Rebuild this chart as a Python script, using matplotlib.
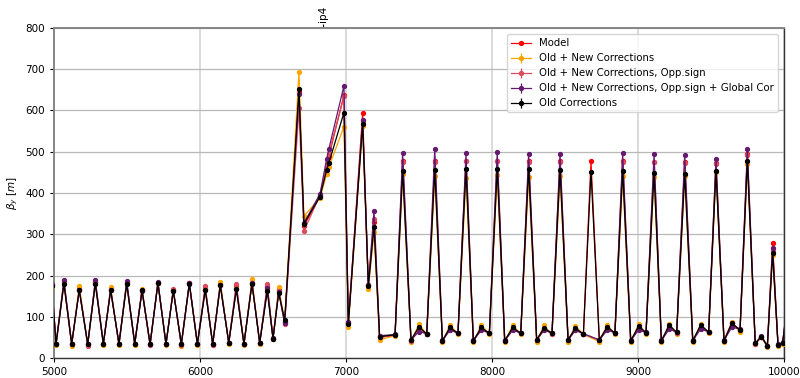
"""Vertical beta function around IP4 for the different correction sets."""

import matplotlib

matplotlib.use("Agg")
import matplotlib.pyplot as plt
import numpy as np

# longitudinal position of each BPM [m]
s_pos = [
    4985, 5014, 5068, 5121, 5173, 5231, 5283, 5338, 5388, 5445, 5498, 5553,
    5603, 5658, 5712, 5767, 5817, 5872, 5927, 5982, 6036, 6087, 6139, 6197,
    6249, 6301, 6356, 6409, 6461, 6500, 6539, 6580,
    6678, 6712, 6822, 6868, 6882, 6986, 7016, 7114, 7153, 7192, 7230, 7336,
    7388, 7445, 7500, 7553, 7608, 7660, 7712, 7767, 7822, 7872, 7927, 7982,
    8036, 8087, 8142, 8197, 8251, 8306, 8356, 8411, 8466, 8521, 8571, 8626,
    8678, 8735, 8790, 8842, 8895, 8950, 9005, 9055, 9110, 9160, 9214, 9265,
    9320, 9375, 9429, 9484, 9534, 9589, 9642, 9699, 9749, 9803, 9845, 9886,
    9922, 9959, 9991, 10040,
]

beta_old = [
    175, 34, 179, 34, 165, 34, 179, 34, 165, 34, 179, 34,
    164, 34, 181, 34, 163, 34, 180, 34, 165, 34, 176, 37,
    166.5, 34, 180, 37, 162, 47, 158, 92,
    651, 326, 391, 456, 472, 595, 82, 567, 174.5, 318, 52, 56,
    454, 43.6, 76, 58, 456, 42, 74, 60, 457, 42, 74, 60,
    459, 42, 74, 60, 459, 44, 73, 60, 456, 44, 73, 58,
    452, 44, 76, 60, 454, 42, 78, 61, 449, 42, 80, 62,
    446, 42, 80, 63, 454, 42, 84, 68, 477, 35.5, 52, 29,
    254, 32, 37, 180,
]

beta_new = [
    172, 31, 182, 29, 175, 32, 182, 31, 171, 31, 181, 32,
    168, 33, 182, 32, 165, 30, 181, 31, 168, 32, 185, 35,
    170, 32, 191, 35, 168, 47, 171, 88,
    694, 344, 388, 446, 462, 561, 75, 563, 167, 305, 44, 54,
    446, 39.5, 82, 57, 440, 38, 80, 58, 436, 38, 80, 58,
    444, 38, 80, 58, 438, 40, 79, 57, 440, 40, 78, 57,
    None, 40, 80, 58, 440, 38, 82, 59, 438, 38, 82, 59,
    441, 38, 82, 60, 450, 38, 88, 62, 470, 34, 50, 27,
    250, 30, 35, 175,
]

beta_opp = [
    178, 33, 186, 33, 166, 30, 185, 33, 166, 33, 184, 33,
    165, 31, 183, 33, 167, 31, 181, 33, 174, 31, 178, 36,
    180, 33, 182, 36, 178.5, 48, 163, 82,
    605, 308, 395, 470, 495, 635, 85, 575, 176, 336, 50, 55,
    476, 42, 70, 58, 476, 41, 70, 60, 478, 41, 70, 60,
    478, 41, 70, 60, 476, 43, 69, 59, 476, 43, 69, 58,
    None, 43, 71, 60, 476, 41, 72, 60, 474, 41, 73, 61,
    472, 41, 73, 62, 470, 41, 85, 67, 492, 33, 51, 28,
    260, 31, 36, 182,
]

beta_global = [
    180, 35, 189, 34, 164, 33, 188, 35, 164, 34, 186, 35,
    163, 33, 184, 34, 163, 33, 182, 35, 166, 34, 177, 37,
    168, 35, 181, 37, 170, 48, 160, 84,
    641, 327, 398, 483, 506, 660, 87, 578, 177, 357, 54, 57,
    498, 44, 64, 59, 507, 43, 67, 61, 496, 43, 67, 61,
    500, 43, 67, 61, 495, 44, 67, 61, 495, 44, 67, 59,
    None, 44, 68, 61, 496, 43, 68, 62, 495, 43, 70, 63,
    493, 43, 70, 64, 482, 43, 74, 71, 507, 36, 53, 30,
    267, 33, 38, 185,
]

beta_model = [
    176, 34, 184, 34, 167, 34, 184, 34, 167, 34, 183, 34,
    166, 34, 182, 34, 166, 34, 181, 34, 170, 34, 179, 37,
    174, 34, 183, 37, 172, 47, 164, 88,
    644, 320, 393, 465, 488, 637, 84, 593, 176, 330, 50, 56,
    478, 43, 72, 58, 478, 42, 72, 60, 478, 42, 72, 60,
    478, 42, 72, 60, 477, 44, 71, 60, 477, 44, 71, 58,
    477, 44, 73, 60, 477, 42, 75, 61, 476, 42, 76, 62,
    475, 42, 76, 63, 472, 42, 85, 68, 494, 35, 52, 29,
    278, 32, 37, 180,
]

ip_pos = [6845]
ip_names = ["ip4"]

measured = [
    ("Old + New Corrections", beta_new, "#ffa500"),
    ("Old + New Corrections, Opp.sign", beta_opp, "#dc4c5e"),
    ("Old + New Corrections, Opp.sign + Global Cor", beta_global, "#651a70"),
    ("Old Corrections", beta_old, "black"),
]


def valid(values):
    s = np.array([x for x, v in zip(s_pos, values) if v is not None], float)
    y = np.array([v for v in values if v is not None], float)
    return s, y


fig = plt.figure(figsize=(8, 3.78), dpi=100)
ax = fig.add_axes([54 / 800, 20 / 378, 730 / 800, 330 / 378])

ax.plot(s_pos, beta_model, "o-", color="red", lw=0.9, ms=2.8,
        label="Model", zorder=2)
for label, values, color in measured:
    s, y = valid(values)
    ax.errorbar(s, y, yerr=np.zeros_like(y), fmt="o-", color=color,
                lw=0.9, ms=2.8, elinewidth=0.9, label=label, zorder=3)

ax.set_xlim(5000, 10000)
ax.set_ylim(0, 800)
ax.set_xticks([5000, 6000, 7000, 8000, 9000, 10000])
ax.set_yticks(range(0, 801, 100))
ax.tick_params(labelsize=7.5, length=3)
ax.set_ylabel(r"$\beta_y$ $[m]$", fontsize=7.5, labelpad=4)

ax.grid(axis="y", color="#b8b8b8", lw=0.9)
ax.grid(axis="x", color="#d8d8d8", lw=1.3)
ax.set_axisbelow(True)

for side in ("left", "top"):
    ax.spines[side].set_color("#858585")
    ax.spines[side].set_linewidth(1.4)
for side in ("bottom", "right"):
    ax.spines[side].set_color("#333333")
    ax.spines[side].set_linewidth(1.0)

top = ax.secondary_xaxis("top")
top.set_xticks(ip_pos)
top.set_xticklabels(ip_names, rotation=90, fontsize=7.5)
top.tick_params(length=3, pad=1)
top.spines["top"].set_visible(False)

ax.legend(loc="upper right", fontsize=7.3, framealpha=0.8,
          borderaxespad=0.6, handlelength=2.0)

fig.savefig("out.png", dpi=100)
